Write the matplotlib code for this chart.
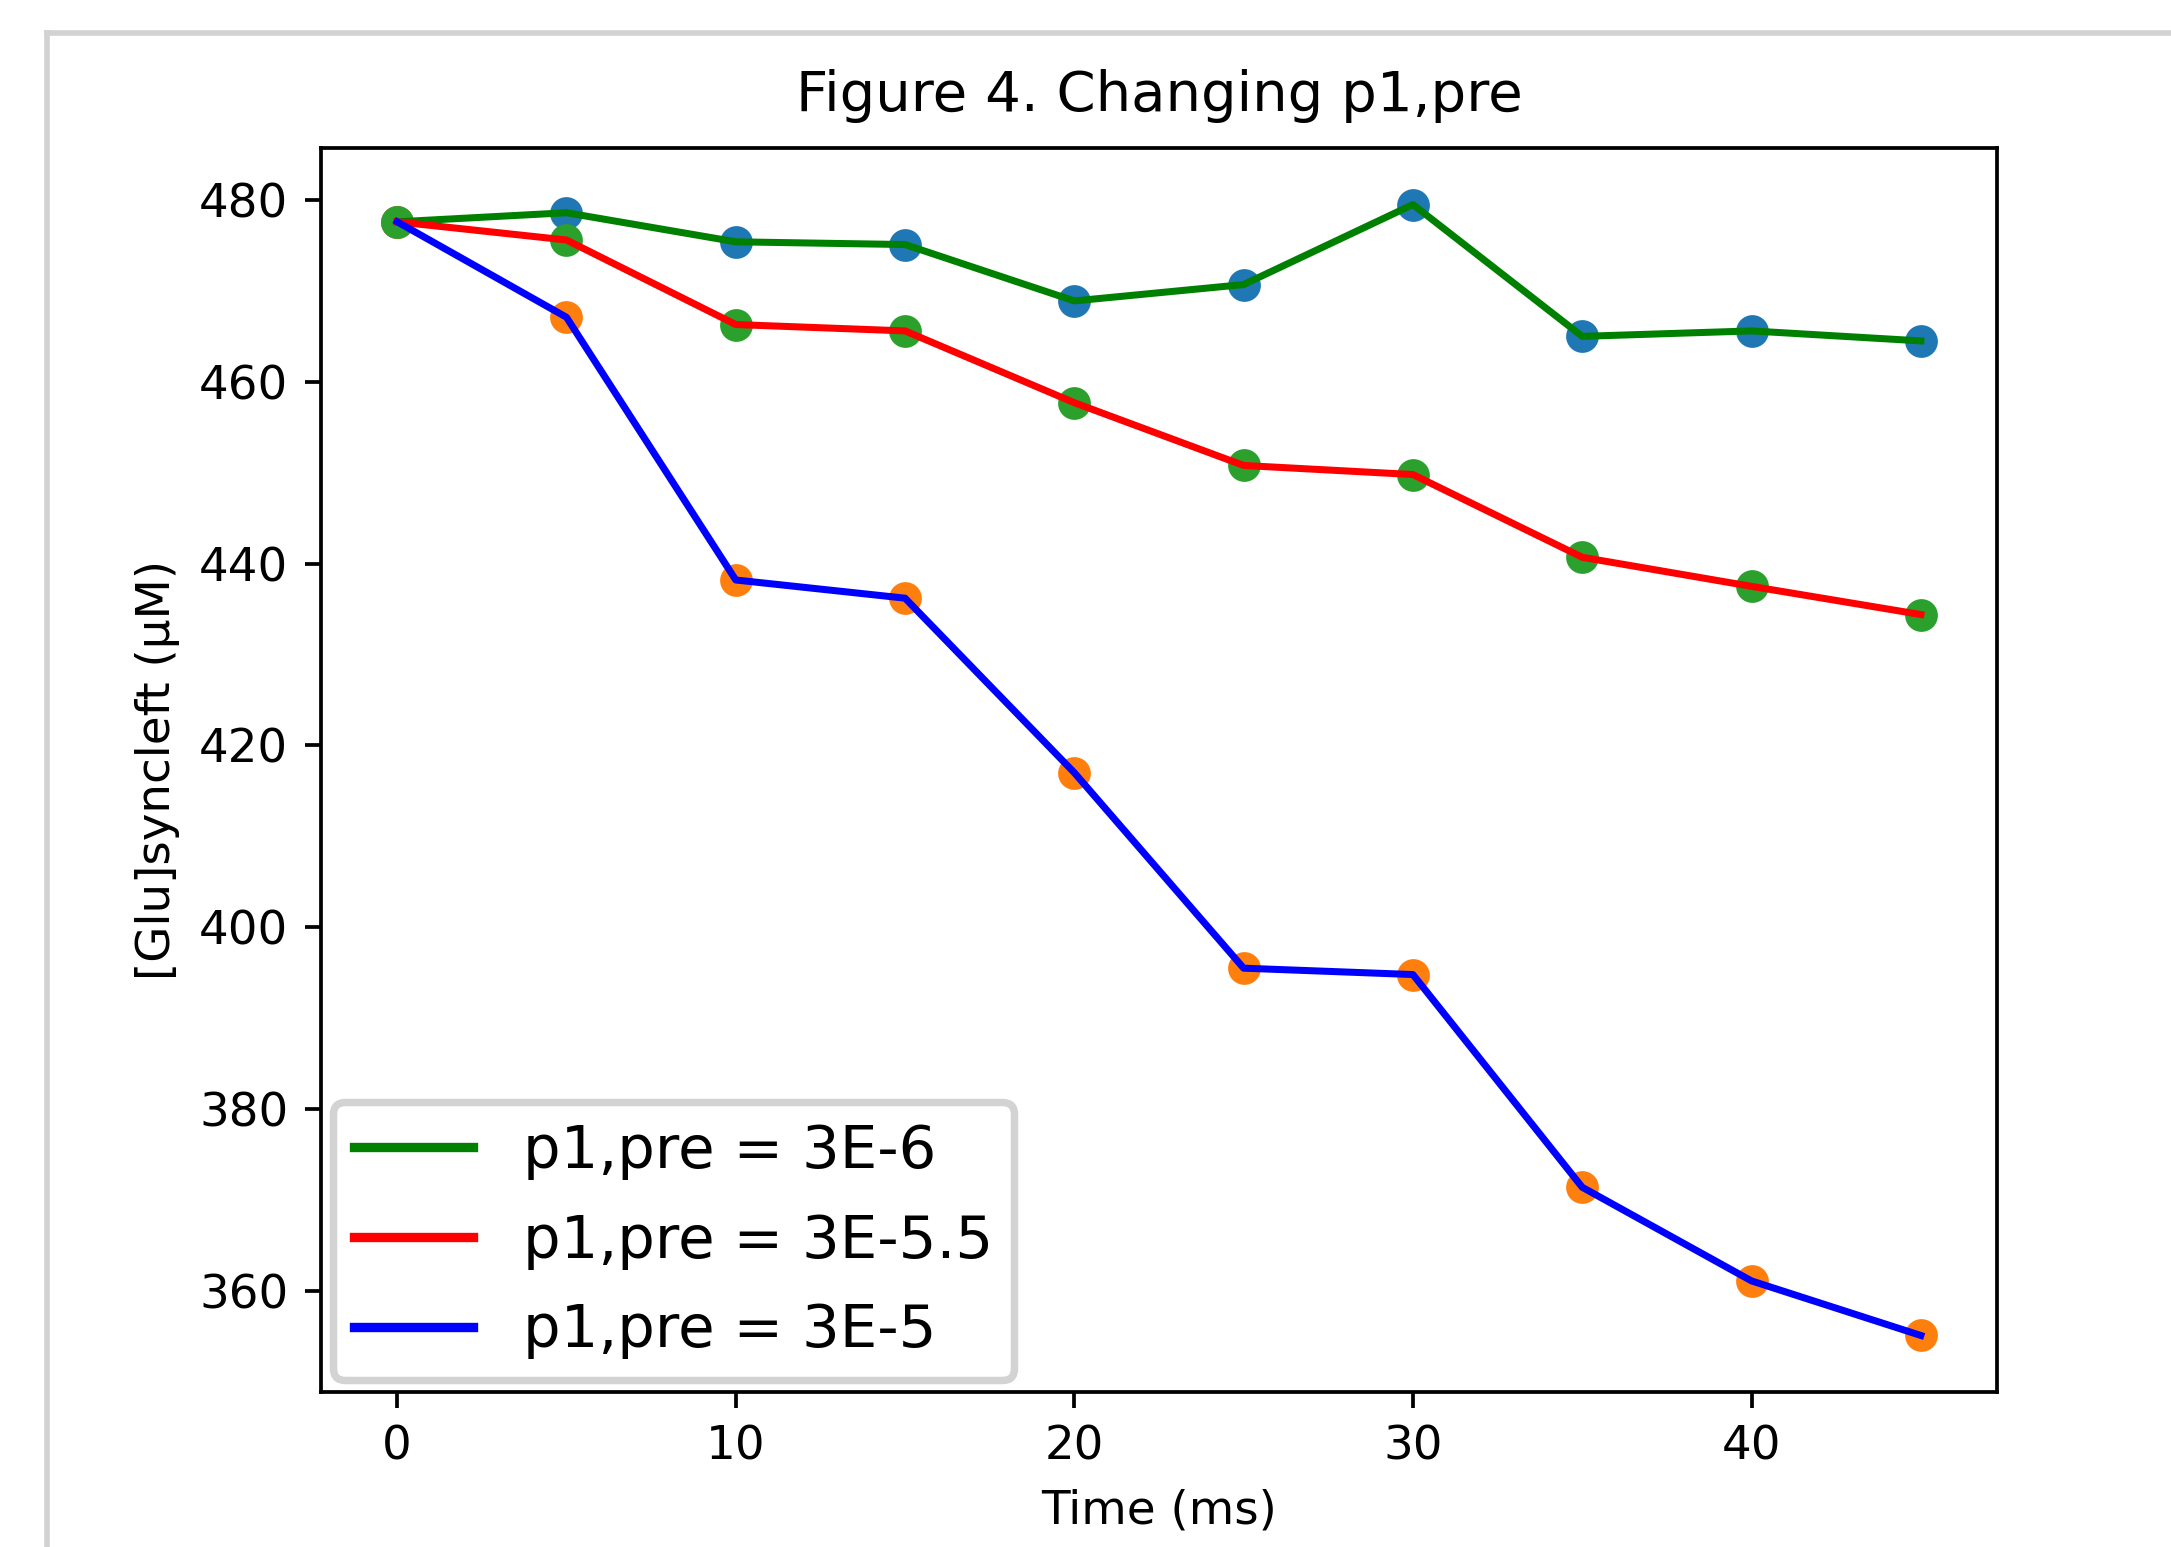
import matplotlib
matplotlib.use('Agg')
import matplotlib.pyplot as plt
from matplotlib.lines import Line2D

time_ms = [0, 5, 10, 15, 20, 25, 30, 35, 40, 45]
glu_3e6 = [477.6, 478.6, 475.4, 475.1, 468.9, 470.7, 479.5, 465.0, 465.6, 464.5]
glu_3e55 = [477.6, 475.6, 466.3, 465.6, 457.7, 450.8, 449.8, 440.7, 437.5, 434.4]
glu_3e5 = [477.6, 467.1, 438.2, 436.2, 417.0, 395.5, 394.8, 371.4, 361.1, 355.1]
labels = ['p1,pre = 3E-6', 'p1,pre = 3E-5.5', 'p1,pre = 3E-5']

W, H = 2171, 1547
DPI = 337
fig = plt.figure(figsize=(W / DPI, H / DPI), dpi=DPI)
ax = fig.add_axes([321 / W, 1 - 1392 / H, (1997 - 321) / W, (1392 - 148) / H])

# scatter points first, lines on top
ax.scatter(time_ms, glu_3e6)
ax.scatter(time_ms, glu_3e5)
ax.scatter(time_ms, glu_3e55)

ax.plot(time_ms, glu_3e6, color='green', label=labels[0])
ax.plot(time_ms, glu_3e55, color='red', label=labels[1])
ax.plot(time_ms, glu_3e5, color='blue', label=labels[2])

ax.set_title('Figure 4. Changing p1,pre', pad=8)
ax.set_xlabel('Time (ms)')
ax.set_ylabel('[Glu]syncleft (μM)')
leg = ax.legend(loc='lower left', fontsize=12.7, borderaxespad=0.2,
                handlelength=2.0, handletextpad=0.85, labelspacing=0.55,
                borderpad=0.35)
leg.get_frame().set_linewidth(1.6)
leg.get_frame().set_edgecolor('#c8c8c8')
for line in leg.get_lines():
    line.set_linewidth(2.0)

# screenshot frame
gray = '#d2d2d2'
fig.add_artist(Line2D([47 / W, 47 / W], [0, 1 - 33 / H], color=gray, lw=1.2,
                      transform=fig.transFigure))
fig.add_artist(Line2D([47 / W, 1], [1 - 33 / H, 1 - 33 / H], color=gray, lw=1.2,
                      transform=fig.transFigure))

fig.savefig('out.png', dpi=DPI)
